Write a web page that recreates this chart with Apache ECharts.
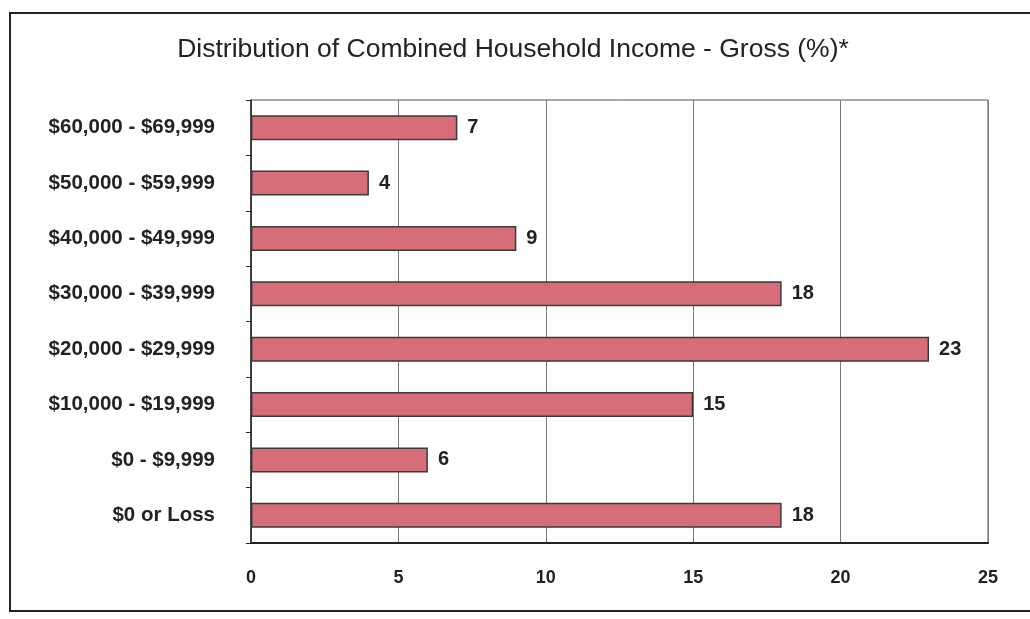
<!DOCTYPE html>
<html><head><meta charset="utf-8">
<script src="https://cdn.jsdelivr.net/npm/echarts@6/dist/echarts.min.js"></script>
<style>html,body{margin:0;padding:0;background:#fff}#c{width:1030px;height:619px}</style>
</head><body><div id="c"></div>
<script>
const categories = ["$0 or Loss", "$0 - $9,999", "$10,000 - $19,999", "$20,000 - $29,999", "$30,000 - $39,999", "$40,000 - $49,999", "$50,000 - $59,999", "$60,000 - $69,999"];
const values = [18, 6, 15, 23, 18, 9, 4, 7];
const xTicks = [0, 5, 10, 15, 20, 25];
const title = "Distribution of Combined Household Income - Gross (%)*";

const chart = echarts.init(document.getElementById('c'));
chart.setOption({
  animation: false,
  backgroundColor: '#fff',
  title: {
    text: title, left: 508, top: 31, textAlign: 'center',
    textStyle: { fontFamily: 'Liberation Sans', fontSize: 26.5, fontWeight: 'normal', color: '#222' }
  },
  graphic: [{
    type: 'rect', shape: { x: 10, y: 13, width: 1030, height: 598 },
    style: { fill: 'none', stroke: '#222', lineWidth: 2 }, silent: true
  }],
  grid: { left: 251, right: 42, top: 100, bottom: 76, show: true, borderColor: '#555', borderWidth: 1 },
  xAxis: {
    type: 'value', min: xTicks[0], max: xTicks[xTicks.length - 1], interval: 5,
    axisLine: { show: true, lineStyle: { color: '#222', width: 2 } },
    axisTick: { show: false },
    splitLine: { show: true, lineStyle: { color: '#777', width: 1 } },
    axisLabel: { margin: 26, fontFamily: 'Liberation Sans', fontSize: 18, fontWeight: 'bold', color: '#222' }
  },
  yAxis: {
    type: 'category', data: categories,
    axisLine: { show: true, lineStyle: { color: '#222', width: 1.5 } },
    axisTick: { show: true, length: 5, lineStyle: { color: '#222' } },
    axisLabel: { margin: 36, fontFamily: 'Liberation Sans', fontSize: 20.5, fontWeight: 'bold', color: '#222' }
  },
  series: [{
    type: 'bar', data: values, barWidth: 25,
    itemStyle: { color: '#d66d78', borderColor: '#3a3a3a', borderWidth: 1.5 },
    label: { show: true, position: 'right', distance: 10, fontFamily: 'Liberation Sans', fontSize: 20, fontWeight: 'bold', color: '#222' }
  }]
});
</script></body></html>
